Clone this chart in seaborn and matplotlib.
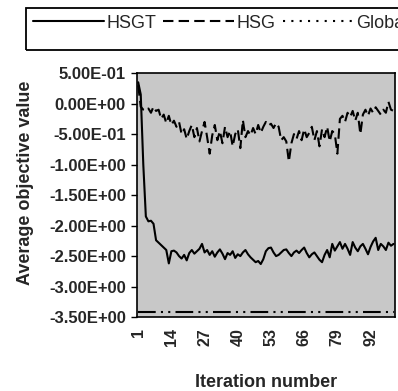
import matplotlib
matplotlib.use("Agg")
import matplotlib.pyplot as plt
from matplotlib.lines import Line2D
from matplotlib.patches import Rectangle
from matplotlib.ticker import FuncFormatter
import seaborn as sns
import pandas as pd
import numpy as np

# values (iterations 1..101)
iterations = list(range(1, 102))

hsgt = [0.35, 0.15, -1.00, -1.85, -1.93, -1.92, -1.97, -2.24, -2.28, -2.32,
        -2.36, -2.40, -2.62, -2.42, -2.41, -2.44, -2.50, -2.54, -2.48, -2.57,
        -2.45, -2.40, -2.46, -2.42, -2.38, -2.30, -2.44, -2.40, -2.48, -2.42,
        -2.51, -2.44, -2.39, -2.46, -2.55, -2.45, -2.48, -2.42, -2.53, -2.47,
        -2.50, -2.44, -2.40, -2.47, -2.52, -2.56, -2.60, -2.58, -2.63, -2.55,
        -2.42, -2.37, -2.36, -2.44, -2.50, -2.48, -2.44, -2.40, -2.39, -2.45,
        -2.50, -2.44, -2.41, -2.45, -2.40, -2.36, -2.45, -2.52, -2.47, -2.44,
        -2.50, -2.56, -2.60, -2.48, -2.40, -2.52, -2.30, -2.41, -2.34, -2.27,
        -2.38, -2.30, -2.38, -2.48, -2.27, -2.36, -2.42, -2.34, -2.30, -2.38,
        -2.47, -2.35, -2.26, -2.20, -2.40, -2.30, -2.34, -2.40, -2.28, -2.33,
        -2.30]

hsg = [0.30, -0.05, -0.10, -0.12, -0.08, -0.15, -0.05, -0.12, -0.10, -0.25,
       -0.18, -0.32, -0.20, -0.35, -0.28, -0.38, -0.30, -0.50, -0.42, -0.58,
       -0.45, -0.35, -0.55, -0.40, -0.62, -0.45, -0.30, -0.55, -0.82, -0.52,
       -0.35, -0.60, -0.45, -0.65, -0.38, -0.55, -0.45, -0.70, -0.50, -0.42,
       -0.73, -0.27, -0.55, -0.45, -0.52, -0.40, -0.50, -0.35, -0.48, -0.38,
       -0.30, -0.36, -0.33, -0.40, -0.32, -0.38, -0.60, -0.55, -0.62, -0.95,
       -0.65, -0.50, -0.58, -0.45, -0.60, -0.42, -0.55, -0.48, -0.38, -0.60,
       -0.45, -0.70, -0.42, -0.55, -0.38, -0.62, -0.45, -0.50, -0.82, -0.25,
       -0.20, -0.30, -0.15, -0.22, -0.12, -0.28, -0.15, -0.50, -0.18, -0.10,
       -0.20, -0.08, -0.15, -0.06, -0.12, -0.18, -0.10, -0.15, 0.03, -0.10,
       -0.12]

global_best = [-3.42] * 101

series_names = ["HSGT", "HSG", "Global"]
xtick_values = [1, 14, 27, 40, 53, 66, 79, 92]
ytick_values = [0.5, 0.0, -0.5, -1.0, -1.5, -2.0, -2.5, -3.0, -3.5]

df = pd.DataFrame({
    "iteration": iterations * 3,
    "value": hsgt + hsg + global_best,
    "series": [series_names[0]] * 101 + [series_names[1]] * 101 + [series_names[2]] * 101,
})

sns.set_theme(style="white")
plt.rcParams["font.family"] = ["Liberation Sans", "DejaVu Sans"]

fig = plt.figure(figsize=(3.98, 3.91), dpi=100)
ax = fig.add_axes([0.344, 0.189, 0.648, 0.624])
ax.set_facecolor("#c8c8c8")

dash_map = {"HSGT": "", "HSG": (5, 2.5), "Global": (8.5, 2.5, 1, 2.5, 1, 2.5)}
sns.lineplot(data=df, x="iteration", y="value", style="series", dashes=dash_map,
             color="black", linewidth=1.5, estimator=None, legend=False, ax=ax)

ax.set_xlim(0.5, 101.5)
ax.set_ylim(-3.5, 0.5)
ax.set_xticks(xtick_values)
ax.set_yticks(ytick_values)
ax.yaxis.set_major_formatter(FuncFormatter(lambda v, p: "{:.2E}".format(v)))
ax.tick_params(axis="x", length=0, pad=8, labelsize=11.5, rotation=90)
ax.tick_params(axis="y", left=True, length=4, width=1, pad=4, labelsize=12, color="black")
for lab in ax.get_xticklabels() + ax.get_yticklabels():
    lab.set_fontweight("bold")

for s in ax.spines.values():
    s.set_color("black")
    s.set_linewidth(1.2)

ax.set_xlabel("Iteration number", fontsize=13, fontweight="bold")
ax.set_ylabel("Average objective value", fontsize=13, fontweight="bold")
ax.xaxis.set_label_coords(0.5, -0.235)
ax.yaxis.set_label_coords(-0.40, 0.55)

# legend box runs off the right edge, as in the scan
fig.add_artist(Rectangle((26 / 398, 1 - 50 / 391), 400 / 398, 42 / 391,
                         transform=fig.transFigure, fill=False,
                         edgecolor="black", linewidth=1.3))
handles = [Line2D([], [], color="black", lw=1.5),
           Line2D([], [], color="black", lw=1.5, dashes=(5, 2.5)),
           Line2D([], [], color="black", lw=1.5, dashes=(1, 3))]
fig.legend(handles, series_names, loc="center left",
           bbox_to_anchor=(26 / 398, 1 - 23 / 391), borderaxespad=0,
           ncol=3, fontsize=13, handlelength=3.9, handletextpad=0.15,
           columnspacing=0.4, borderpad=0.4, frameon=False)

fig.savefig("out.png", dpi=100)
